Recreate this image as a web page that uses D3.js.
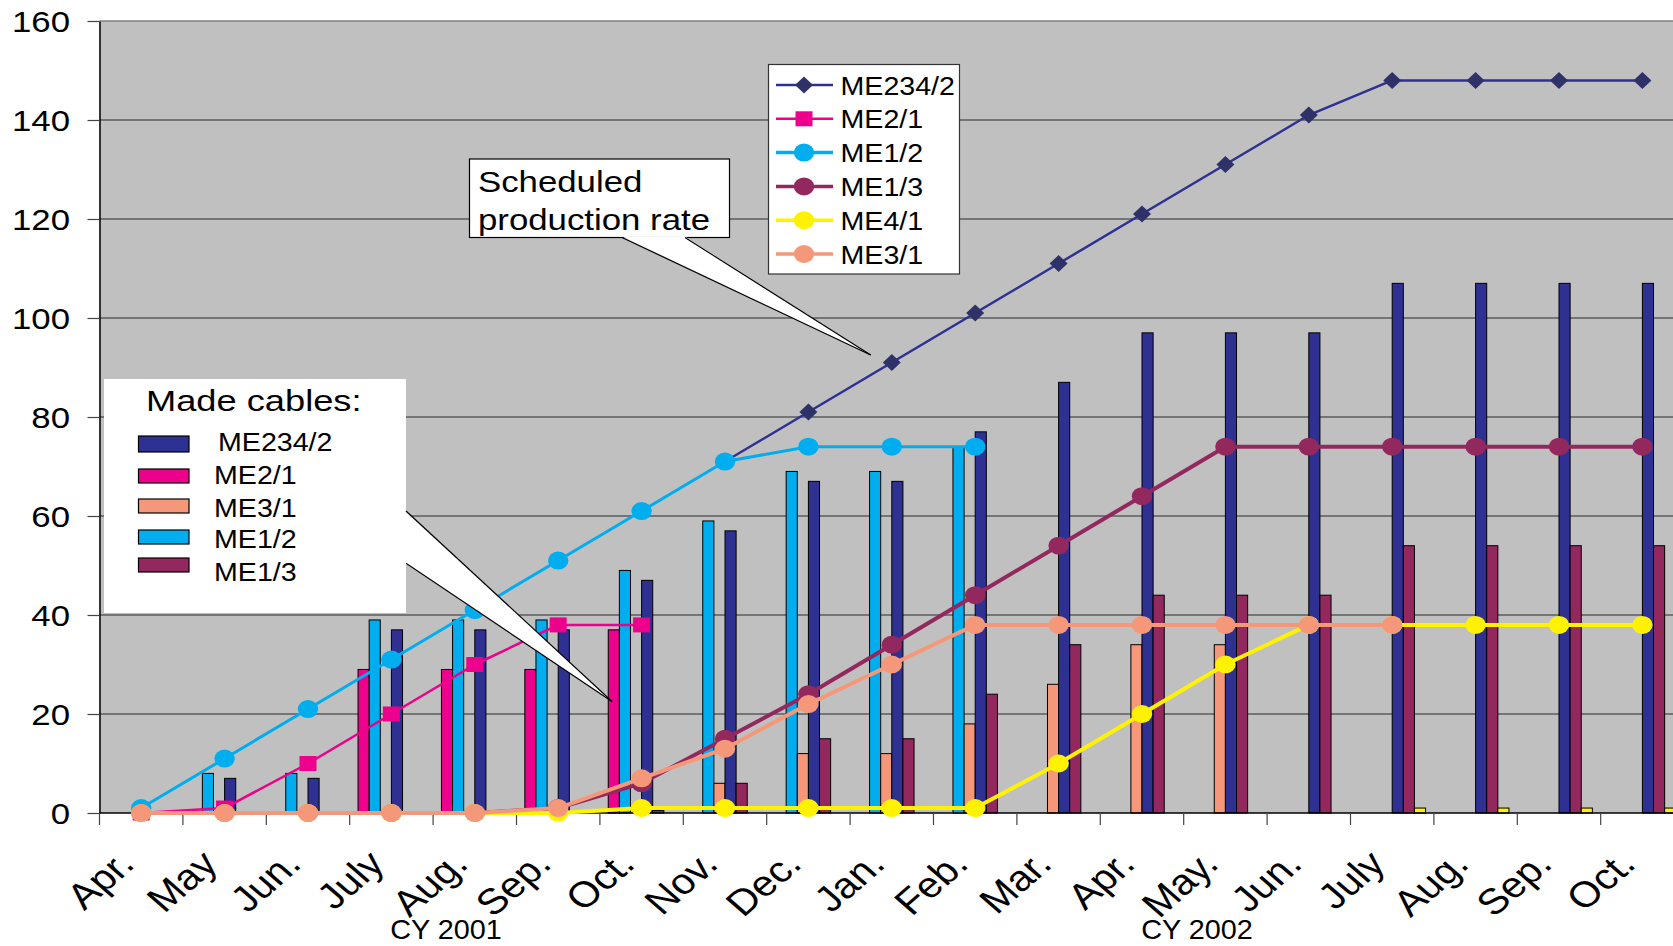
<!DOCTYPE html>
<html>
<head>
<meta charset="utf-8">
<script src="https://cdn.jsdelivr.net/npm/d3@7"></script>
<style>
  html, body { margin: 0; padding: 0; background: #fff; overflow: hidden; }
  svg { display: block; font-family: "Liberation Sans", Arial, sans-serif; }
</style>
</head>
<body>
<svg id="chart" width="1673" height="946"></svg>
<script>
// Month categories, April 2001 to October 2002
const months = ["Apr.", "May", "Jun.", "July", "Aug.", "Sep.", "Oct.", "Nov.", "Dec.",
                "Jan.", "Feb.", "Mar.", "Apr.", "May.", "Jun.", "July", "Aug.", "Sep.", "Oct."];
const yearLabels = ["CY 2001", "CY 2002"];
const yTicks = [0, 20, 40, 60, 80, 100, 120, 140, 160];

// Made cables (bars), in drawing order within each month
const barME21   = [0, 0, 0, 29, 29, 29, 37, 0, 0, 0, 0, 0, 0, 0, 0, 0, 0, 0, 0];
const barME12   = [0, 8, 8, 39, 39, 39, 49, 59, 69, 69, 74, 0, 0, 0, 0, 0, 0, 0, 0];
const barME31   = [0, 0, 0, 0, 0, 0, 0, 6, 12, 12, 18, 26, 34, 34, 0, 0, 0, 0, 0];
const barME2342 = [0, 7, 7, 37, 37, 37, 47, 57, 67, 67, 77, 87, 97, 97, 97, 107, 107, 107, 107];
const barME13   = [0, 0, 0, 0, 0, 0, 0.5, 6, 15, 15, 24, 34, 44, 44, 44, 54, 54, 54, 54];
const barME41   = [0, 0, 0, 0, 0, 0, 0, 0, 0, 0, 0, 0, 0, 0, 0, 1, 1, 1, 1];

// Scheduled production (lines)
const lineME2342 = [null, null, null, null, null, null, null, 71, 81, 91, 101, 111, 121, 131, 141, 148, 148, 148, 148];
const lineME21   = [0, 1, 10, 20, 30, 38, 38, null, null, null, null, null, null, null, null, null, null, null, null];
const lineME12   = [1, 11, 21, 31, 41, 51, 61, 71, 74, 74, 74, null, null, null, null, null, null, null, null];
const lineME13   = [0, 0, 0, 0, 0, 1, 6, 15, 24, 34, 44, 54, 64, 74, 74, 74, 74, 74, 74];
const lineME41   = [0, 0, 0, 0, 0, 0, 1, 1, 1, 1, 1, 10, 20, 30, 38, 38, 38, 38, 38];
const lineME31   = [0, 0, 0, 0, 0, 1, 7, 13, 22, 30, 38, 38, 38, 38, 38, 38, null, null, null];

(function () {
const C = {
  navy: "#2e3192", navyMark: "#2f3268", pink: "#ec008c", salmon: "#f5987a",
  cyan: "#00aeef", maroon: "#93285f", yellow: "#fff200"
};

const barSeries = [
  { name: "ME2/1", values: barME21, color: C.pink },
  { name: "ME1/2", values: barME12, color: C.cyan },
  { name: "ME3/1", values: barME31, color: C.salmon },
  { name: "ME234/2", values: barME2342, color: C.navy },
  { name: "ME1/3", values: barME13, color: C.maroon },
  { name: "ME4/1", values: barME41, color: C.yellow }
];
const lineSeries = [
  { name: "ME234/2", values: lineME2342, color: C.navy, mark: "diamond", fill: C.navyMark, width: 2.5 },
  { name: "ME2/1", values: lineME21, color: C.pink, mark: "square", fill: C.pink, width: 2.5 },
  { name: "ME1/2", values: lineME12, color: C.cyan, mark: "circle", fill: C.cyan, width: 3 },
  { name: "ME1/3", values: lineME13, color: C.maroon, mark: "circle", fill: C.maroon, width: 4 },
  { name: "ME4/1", values: lineME41, color: C.yellow, mark: "circle", fill: C.yellow, width: 4 },
  { name: "ME3/1", values: lineME31, color: C.salmon, mark: "circle", fill: C.salmon, width: 4 }
];
const barLegend = ["ME234/2", "ME2/1", "ME3/1", "ME1/2", "ME1/3"];

const svg = d3.select("#chart");
svg.append("rect").attr("width", 1673).attr("height", 946).attr("fill", "#fff");

const plotLeft = 99.5, step = 83.4, plotTop = 21, zero = 813;
const x = d3.scaleBand().domain(d3.range(months.length)).range([plotLeft, plotLeft + step * months.length]);
const y = d3.scaleLinear().domain([0, 160]).range([zero, plotTop]);
const bw = x.bandwidth();
const plotRight = plotLeft + step * months.length;

// plot area
svg.append("rect").attr("x", plotLeft).attr("y", plotTop).attr("width", plotRight - plotLeft).attr("height", zero - plotTop)
  .attr("fill", "#c0c0c0");

// horizontal grid
svg.append("g").selectAll("line").data(yTicks.filter(d => d > 0)).join("line")
  .attr("x1", plotLeft).attr("x2", plotRight).attr("y1", d => y(d)).attr("y2", d => y(d))
  .attr("stroke", d => d === 160 ? "#808080" : "#2a2a2a").attr("stroke-width", d => d === 160 ? 1.5 : 1.1);

function stretchText(g, px, py, str, size, sx, anchor) {
  return g.append("text")
    .attr("transform", `translate(${px},${py}) scale(${sx},1)`)
    .attr("text-anchor", anchor).attr("font-size", size).attr("fill", "#000").text(str);
}

// y axis
const yAxis = svg.append("g").attr("transform", `translate(${plotLeft},0)`)
  .call(d3.axisLeft(y).tickValues(yTicks).tickSize(12).tickSizeOuter(0).tickFormat(d3.format("d")));
yAxis.select(".domain").attr("stroke", "#000").attr("stroke-width", 1.5);
yAxis.selectAll(".tick line").attr("stroke", "#444").attr("stroke-width", 1.2);
yAxis.selectAll(".tick text").remove();
yAxis.selectAll(".tick").each(function (d) {
  stretchText(d3.select(this), -29.5, 10.5, d3.format("d")(d), 29, 1.2, "end");
});

// bars
const xb = d3.scaleBand().domain(barSeries.map(s => s.name)).range([0, bw]).paddingInner(0).paddingOuter(0.75);
const barG = svg.append("g");
barSeries.forEach(s => {
  barG.append("g").selectAll("rect").data(s.values.map((v, i) => ({ v, i })).filter(d => d.v > 0)).join("rect")
    .attr("x", d => x(d.i) + xb(s.name))
    .attr("y", d => y(d.v))
    .attr("width", xb.bandwidth())
    .attr("height", d => zero - y(d.v))
    .attr("fill", s.color).attr("stroke", "#000").attr("stroke-width", 1);
});

// x axis
svg.append("line").attr("x1", plotLeft).attr("x2", plotRight).attr("y1", zero).attr("y2", zero)
  .attr("stroke", "#000").attr("stroke-width", 1.5);
svg.append("g").selectAll("line").data(d3.range(months.length + 1)).join("line")
  .attr("x1", i => i < months.length ? x(i) : plotRight).attr("x2", i => i < months.length ? x(i) : plotRight)
  .attr("y1", zero).attr("y2", zero + 12).attr("stroke", "#444").attr("stroke-width", 1.2);
const xl = svg.append("g");
months.forEach((m, i) => {
  xl.append("text")
    .attr("transform", `translate(${x(i) + bw / 2 - 5},866) scale(1.15,1) rotate(-45)`)
    .attr("text-anchor", "end").attr("font-size", 36).attr("fill", "#000").text(m);
});
stretchText(svg, 446, 939, yearLabels[0], 28, 1.03, "middle");
stretchText(svg, 1197, 939, yearLabels[1], 28, 1.03, "middle");

// lines and markers
const line = d3.line().defined(d => d.v != null).x(d => x(d.i) + bw / 2).y(d => y(d.v));
function drawMarker(g, kind, fill, cx, cy) {
  if (kind === "diamond") {
    g.append("path").attr("d", "M0,-8.5L9,0L0,8.5L-9,0Z").attr("transform", `translate(${cx},${cy})`).attr("fill", fill);
  } else if (kind === "square") {
    g.append("rect").attr("x", cx - 8.5).attr("y", cy - 7.5).attr("width", 17).attr("height", 15).attr("fill", fill);
  } else {
    g.append("ellipse").attr("cx", cx).attr("cy", cy).attr("rx", 10.2).attr("ry", 9).attr("fill", fill);
  }
}
lineSeries.forEach(s => {
  const pts = s.values.map((v, i) => ({ v, i }));
  const g = svg.append("g");
  g.append("path").attr("d", line(pts)).attr("fill", "none").attr("stroke", s.color)
    .attr("stroke-width", s.width).attr("stroke-linejoin", "round");
  pts.filter(d => d.v != null).forEach(d => drawMarker(g, s.mark, s.fill, x(d.i) + bw / 2, y(d.v)));
});

// "Scheduled production rate" callout
const co = svg.append("g");
co.append("rect").attr("x", 469.5).attr("y", 159).attr("width", 260).attr("height", 78.5)
  .attr("fill", "#fff").attr("stroke", "#000").attr("stroke-width", 1.2);
co.append("polygon").attr("points", "622,236.4 870.7,355 685,236.4").attr("fill", "#fff");
co.append("line").attr("x1", 622).attr("y1", 237.5).attr("x2", 870.7).attr("y2", 355).attr("stroke", "#000").attr("stroke-width", 1.2);
co.append("line").attr("x1", 685).attr("y1", 237.5).attr("x2", 870.7).attr("y2", 355).attr("stroke", "#000").attr("stroke-width", 1.2);
stretchText(co, 478, 192, "Scheduled", 29, 1.2, "start");
stretchText(co, 478, 230, "production rate", 29, 1.2, "start");

// "Made cables" legend box with pointer
const mc = svg.append("g");
mc.append("rect").attr("x", 104).attr("y", 379).attr("width", 302).attr("height", 234).attr("fill", "#fff");
mc.append("polygon").attr("points", "405,511 612.3,701.7 405,563.3").attr("fill", "#fff");
mc.append("line").attr("x1", 406).attr("y1", 511).attr("x2", 612.3).attr("y2", 701.7).attr("stroke", "#000").attr("stroke-width", 1.2);
mc.append("line").attr("x1", 406).attr("y1", 563.3).attr("x2", 612.3).attr("y2", 701.7).attr("stroke", "#000").attr("stroke-width", 1.2);
stretchText(mc, 146, 411, "Made cables:", 29, 1.25, "start");
const swatchY = [436, 469, 499, 530, 558];
const swatchH = [16, 14, 14, 14, 14];
const textY = [451, 484, 516.5, 548, 580.5];
barLegend.forEach((name, k) => {
  const s = barSeries.find(b => b.name === name);
  mc.append("rect").attr("x", 138.5).attr("y", swatchY[k]).attr("width", 50.5).attr("height", swatchH[k])
    .attr("fill", s.color).attr("stroke", "#000").attr("stroke-width", 1.2);
  stretchText(mc, k === 0 ? 218 : 214, textY[k], name, 26, 1.1, "start");
});

// line legend
const lg = svg.append("g");
lg.append("rect").attr("x", 768.5).attr("y", 64.5).attr("width", 191).attr("height", 209.5)
  .attr("fill", "#fff").attr("stroke", "#333").attr("stroke-width", 1.2);
lineSeries.forEach((s, k) => {
  const cy = 85 + k * 33.8;
  lg.append("line").attr("x1", 776).attr("x2", 833).attr("y1", cy).attr("y2", cy)
    .attr("stroke", s.color).attr("stroke-width", s.width === 2.5 ? 2.5 : 3.5);
  drawMarker(lg, s.mark, s.fill, 804, cy);
  stretchText(lg, 840.5, cy + 9.5, s.name, 26, 1.1, "start");
});
})();
</script>
</body>
</html>
